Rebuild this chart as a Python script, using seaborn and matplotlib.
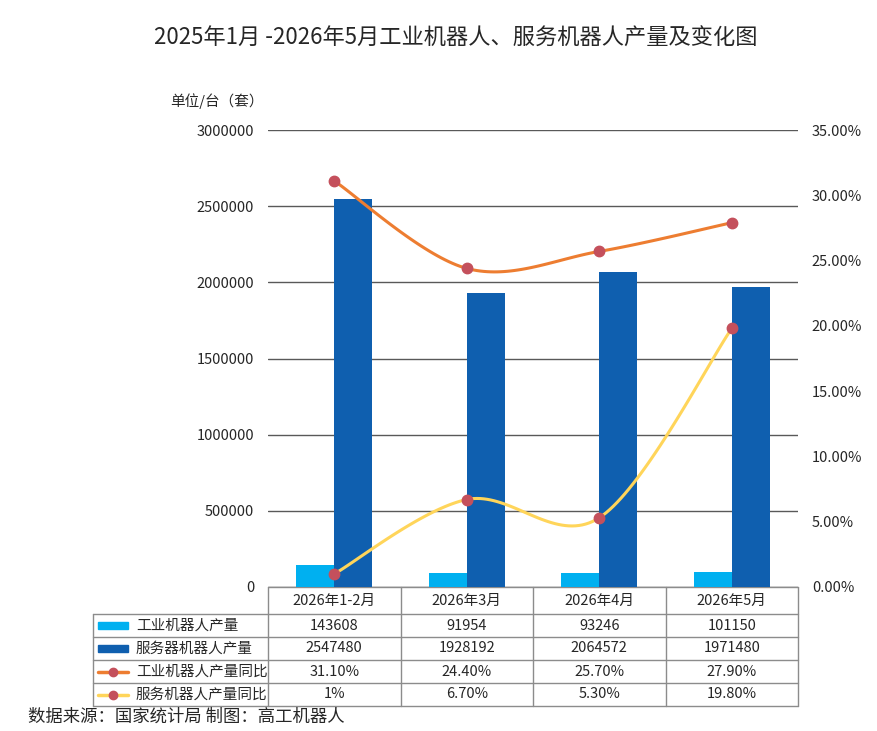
import numpy as np
import pandas as pd
import seaborn as sns
import matplotlib.pyplot as plt
from matplotlib.ticker import FuncFormatter
from matplotlib.transforms import blended_transform_factory

# Data
months = ['2026年1-2月', '2026年3月', '2026年4月', '2026年5月']
industrial = [143608, 91954, 93246, 101150]
service = [2547480, 1928192, 2064572, 1971480]
industrial_yoy = [31.1, 24.4, 25.7, 27.9]
service_yoy = [1.0, 6.7, 5.3, 19.8]
industrial_yoy_text = ['31.10%', '24.40%', '25.70%', '27.90%']
service_yoy_text = ['1%', '6.70%', '5.30%', '19.80%']
series_names = ['工业机器人产量', '服务器机器人产量', '工业机器人产量同比', '服务机器人产量同比']

C_IND = '#00B0F0'
C_SRV = '#0F5FAF'
C_IND_L = '#ED7D31'
C_SRV_L = '#FFD55A'
C_MARK = '#C4505C'
GRID = '#595959'
BORDER = '#8C8C8C'

sns.set_style('white')
plt.rcParams['font.family'] = ['Noto Sans CJK SC', 'DejaVu Sans']


def smooth(y, steps=40):
    # catmull-rom spline through the points, like a smoothed office line
    pts = np.column_stack([np.arange(len(y)), y]).astype(float)
    pts = np.vstack([pts[0], pts, pts[-1]])
    t = np.linspace(0, 1, steps)[:, None]
    segs = []
    for i in range(1, len(pts) - 2):
        p0, p1, p2, p3 = pts[i - 1:i + 3]
        segs.append(0.5 * (2 * p1 + (-p0 + p2) * t
                           + (2 * p0 - 5 * p1 + 4 * p2 - p3) * t ** 2
                           + (-p0 + 3 * p1 - 3 * p2 + p3) * t ** 3))
    out = np.vstack(segs)
    return out[:, 0], out[:, 1]


W, H = 877, 731
fig = plt.figure(figsize=(W / 100, H / 100), dpi=100)

# overlay in pixel coordinates for the table and texts
ov = fig.add_axes([0, 0, 1, 1], zorder=0)
ov.set_xlim(0, W)
ov.set_ylim(H, 0)
ov.axis('off')

x0, x1, ytop, ybot = 268, 798, 130, 587
ax = fig.add_axes([x0 / W, (H - ybot) / H, (x1 - x0) / W, (ybot - ytop) / H], zorder=2)
ax.patch.set_alpha(0)

df = pd.DataFrame({
    'month': months * 2,
    'series': [series_names[0]] * 4 + [series_names[1]] * 4,
    'value': industrial + service,
})
sns.barplot(data=df, x='month', y='value', hue='series', palette=[C_IND, C_SRV],
            width=0.57, gap=0, saturation=1, legend=False, linewidth=0, ax=ax, zorder=3)
ax.set_xlim(-0.5, 3.5)
ax.set_ylim(0, 3000000)
ax.set_yticks(np.arange(0, 3000001, 500000))
ax.yaxis.set_major_formatter(FuncFormatter(lambda v, p: f'{int(v)}'))
ax.grid(axis='y', color=GRID, lw=1, zorder=0)
ax.set_axisbelow(True)
ax.set_xticks([])
ax.set_xlabel('')
ax.set_ylabel('')
ax.tick_params(axis='y', length=0, pad=10, labelsize=10.5)
for s in ax.spines.values():
    s.set_visible(False)

ax2 = ax.twinx()
ax2.set_ylim(0, 35)
ax2.set_yticks(np.arange(0, 35.1, 5))
ax2.yaxis.set_major_formatter(FuncFormatter(lambda v, p: f'{v:.2f}%'))
ax2.tick_params(axis='y', length=0, pad=10, labelsize=10.5)
for s in ax2.spines.values():
    s.set_visible(False)
for vals, col in [(industrial_yoy, C_IND_L), (service_yoy, C_SRV_L)]:
    sx, sy = smooth(vals)
    ax2.plot(sx, sy, color=col, lw=2.2, solid_capstyle='round', zorder=4)
    ax2.plot(range(len(vals)), vals, 'o', color=C_MARK, ms=7.5, zorder=5)

# titles
fig.text(0.52, 1 - 38 / H, '2025年1月 -2026年5月工业机器人、服务机器人产量及变化图',
         ha='center', va='center', fontsize=16)
ov.text(264, 101, '单位/台（套）', ha='right', va='center', fontsize=10.5)
ov.text(28, 717, '数据来源：国家统计局 制图：高工机器人', ha='left', va='center', fontsize=12.5)

# data table under the chart
tr = blended_transform_factory(ax.transData, ov.transData)
rows_y = [587, 614, 637, 660, 683, 706]
ov.plot([x0, x1], [587, 587], color=BORDER, lw=1)
for y in rows_y[1:]:
    ov.plot([93, x1], [y, y], color=BORDER, lw=1)
ov.plot([93, 93], [614, 706], color=BORDER, lw=1)
for b in np.arange(-0.5, len(months), 1.0):
    ax.plot([b, b], [587, 706], color=BORDER, lw=1, transform=tr, clip_on=False)

cells = [
    [f'{v}' for v in industrial],
    [f'{v}' for v in service],
    industrial_yoy_text,
    service_yoy_text,
]
for i, m in enumerate(months):
    ax.text(i, (rows_y[0] + rows_y[1]) / 2, m, transform=tr, ha='center', va='center', fontsize=10.5)
    for r, row in enumerate(cells):
        ax.text(i, (rows_y[r + 1] + rows_y[r + 2]) / 2, row[i], transform=tr,
                ha='center', va='center', fontsize=10.5)

for r, name in enumerate(series_names):
    yc = (rows_y[r + 1] + rows_y[r + 2]) / 2
    if r < 2:
        ov.add_patch(plt.Rectangle((98, yc - 3.5), 30, 7, color=[C_IND, C_SRV][r]))
    else:
        ov.plot([98, 128], [yc, yc], color=[C_IND_L, C_SRV_L][r - 2], lw=2.5)
        ov.plot([113], [yc], 'o', color=C_MARK, ms=6)
    ov.text(136, yc, name, ha='left', va='center', fontsize=10.5)

plt.savefig('out.png', dpi=100)
plt.close()
